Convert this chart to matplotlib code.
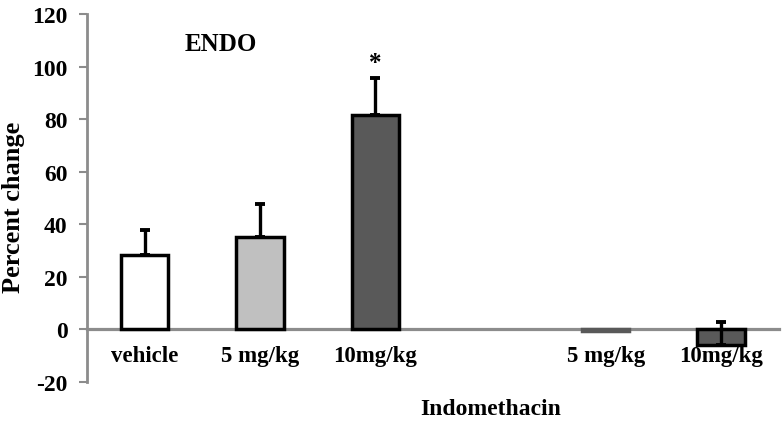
import matplotlib
matplotlib.use("Agg")
import matplotlib.pyplot as plt

categories = ["vehicle", "5 mg/kg", "10mg/kg", "", "5 mg/kg", "10mg/kg"]
values = [28.2, 35.0, 81.6, None, -0.5, -5.8]
errors = [9.8, 12.8, 14.2, None, 0.0, 8.5]
colors = ["#ffffff", "#c0c0c0", "#595959", "#ffffff", "#595959", "#595959"]
edgecolors = ["#000000", "#000000", "#000000", "none", "#595959", "#000000"]
group_label = "Indomethacin"
panel_title = "ENDO"
ylabel = "Percent change"
yticks = [-20, 0, 20, 40, 60, 80, 100, 120]

plt.rcParams['font.family'] = ['Liberation Serif', 'DejaVu Serif']
plt.rcParams['font.weight'] = 'bold'

fig = plt.figure(figsize=(7.84, 4.27), dpi=100)
ax = fig.add_axes([0.111, 0.103, 0.882, 0.862])

xs = list(range(len(categories)))
for x, v, e, c, ec in zip(xs, values, errors, colors, edgecolors):
    if v is None:
        continue
    ax.bar(x, v, width=0.41, color=c, edgecolor=ec, linewidth=2.5, zorder=3)
    if e:
        ax.errorbar(x, v, yerr=[[0], [e]], fmt='none', ecolor='black',
                    elinewidth=2.4, capsize=3.8, capthick=2.8, zorder=4)

ax.set_xlim(-0.5, 5.5)
ax.set_ylim(-20, 120)

for s in ['top', 'right']:
    ax.spines[s].set_visible(False)
ax.spines['bottom'].set_position(('data', 0))
ax.spines['bottom'].set_color('#8c8c8c')
ax.spines['bottom'].set_linewidth(2.3)
ax.spines['bottom'].set_zorder(2)
ax.spines['left'].set_color('#8c8c8c')
ax.spines['left'].set_linewidth(2.0)

ax.set_yticks(yticks)
ax.set_yticklabels([str(t) for t in yticks])
ax.set_xticks([i for i, c in enumerate(categories) if c])
ax.set_xticklabels([c for c in categories if c])
ax.tick_params(axis='x', length=0, pad=11, labelsize=16.5)
ax.tick_params(axis='y', length=6, width=1.5, color='#8c8c8c', pad=8, labelsize=17)

ax.set_ylabel(ylabel, fontsize=19, fontweight='bold')
ax.yaxis.set_label_coords(-0.0896, 0.476)

ax.text(0.66, 108.6, panel_title, ha='center', va='center', fontsize=18, fontweight='bold')
ax.text(2, 101.5, "*", ha='center', va='center', fontsize=18, fontweight='bold')
ax.text(3, -30, group_label, ha='center', va='center', fontsize=17, fontweight='bold', clip_on=False)

fig.savefig("out.png", dpi=100)
